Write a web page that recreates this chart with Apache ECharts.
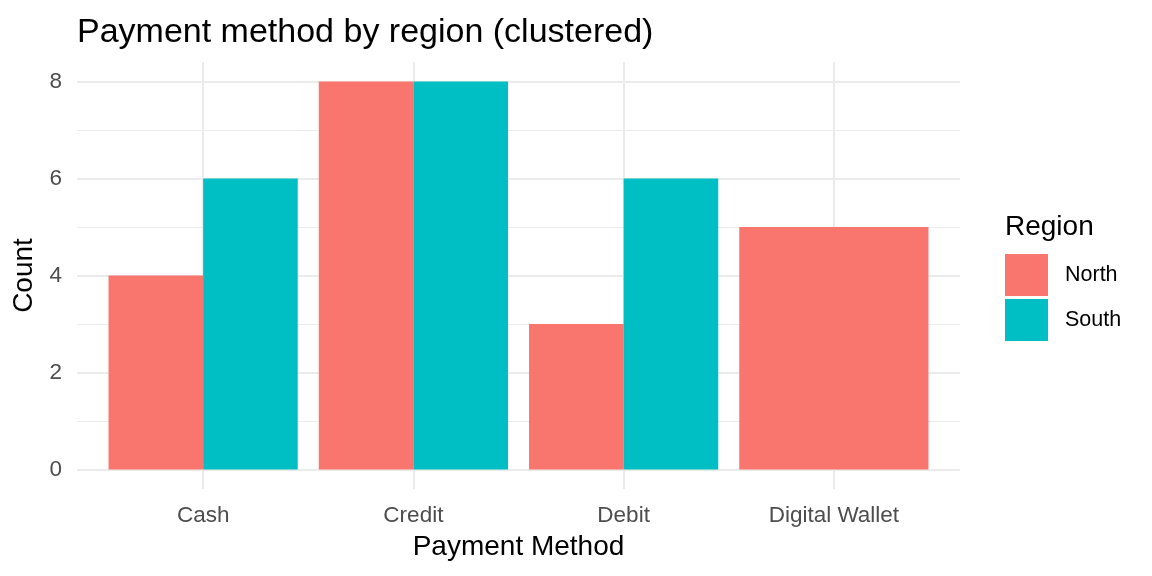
<!DOCTYPE html>
<html>
<head>
<meta charset="utf-8">
<script src="https://cdn.jsdelivr.net/npm/echarts@6/dist/echarts.min.js"></script>
<style>
  html, body { margin: 0; padding: 0; background: #fff; }
  #chart { width: 1152px; height: 576px; }
</style>
</head>
<body>
<div id="chart"></div>
<script>
// data
const methods = ['Cash', 'Credit', 'Debit', 'Digital Wallet'];
const north = [4, 8, 3, 5];
const south = [6, 8, 6, null];
const yTicks = [0, 2, 4, 6, 8];

const FONT = 'Liberation Sans, Arial, sans-serif';
let myChart = echarts.init(document.getElementById('chart'));

// ggplot style dodge: bar takes half the slot when both regions exist, full slot otherwise
function seriesData(vals, other) {
    return vals.map(function (v, i) {
        return v == null ? null : [i + 1, v, other[i] == null ? 0 : 1];
    }).filter(function (d) { return d; });
}

function makeRender(side) {
    return function (params, api) {
        let x = api.value(0), v = api.value(1), dodge = api.value(2);
        let x0 = x - 0.45, x1 = x + 0.45;
        if (dodge) {
            if (side === 0) x1 = x; else x0 = x;
        }
        let p0 = api.coord([x0, 0]);
        let p1 = api.coord([x1, v]);
        return {
            type: 'rect',
            shape: { x: p0[0], y: p1[1], width: p1[0] - p0[0], height: p0[1] - p1[1] },
            style: { fill: api.visual('color') }
        };
    };
}

myChart.setOption({
    animation: false,
    title: [
        {
            text: 'Payment method by region (clustered)',
            left: 72, top: 11,
            textStyle: { fontFamily: FONT, fontSize: 34, fontWeight: 'normal', color: '#000' }
        },
        {
            text: 'Region',
            left: 1000, top: 208,
            textStyle: { fontFamily: FONT, fontSize: 28, fontWeight: 'normal', color: '#000' }
        }
    ],
    legend: {
        orient: 'vertical',
        left: 1000, top: 249,
        itemWidth: 43, itemHeight: 42, itemGap: 3,
        icon: 'rect',
        data: ['North', 'South'],
        textStyle: { fontFamily: FONT, fontSize: 21.5, color: '#000', padding: [5, 0, 0, 12] }
    },
    grid: { left: 77, right: 192, top: 62, bottom: 87, containLabel: false },
    xAxis: {
        type: 'value', min: 0.4, max: 4.6,
        name: 'Payment Method', nameLocation: 'middle', nameGap: 44,
        nameTextStyle: { fontFamily: FONT, fontSize: 28, color: '#000' },
        axisLine: { show: false },
        axisTick: { show: false, customValues: [1, 2, 3, 4] },
        axisLabel: {
            customValues: [1, 2, 3, 4],
            margin: 15,
            fontFamily: FONT, fontSize: 22.5, color: '#4d4d4d',
            formatter: function (v) { return methods[Math.round(v) - 1]; }
        },
        splitLine: { show: true, lineStyle: { color: '#ebebeb', width: 2 } }
    },
    yAxis: [
        {
            type: 'value', min: -0.4, max: 8.4,
            name: 'Count', nameLocation: 'middle', nameGap: 37,
            nameTextStyle: { fontFamily: FONT, fontSize: 28, color: '#000' },
            axisLine: { show: false },
            axisTick: { show: false, customValues: yTicks },
            axisLabel: { customValues: yTicks, margin: 15, fontFamily: FONT, fontSize: 22.5, color: '#4d4d4d' },
            splitLine: { show: true, lineStyle: { color: '#ebebeb', width: 2 } }
        },
        {
            // minor gridlines
            type: 'value', min: -0.4, max: 8.4, position: 'left',
            axisLine: { show: false },
            axisTick: { show: false, customValues: [1, 3, 5, 7] },
            axisLabel: { show: false, customValues: [1, 3, 5, 7] },
            splitLine: { show: true, lineStyle: { color: '#ebebeb', width: 1 } }
        }
    ],
    series: [
        {
            name: 'North', type: 'custom', z: 5,
            itemStyle: { color: '#F8766D' },
            renderItem: makeRender(0),
            encode: { x: 0, y: 1 },
            data: seriesData(north, south)
        },
        {
            name: 'South', type: 'custom', z: 5,
            itemStyle: { color: '#00BFC4' },
            renderItem: makeRender(1),
            encode: { x: 0, y: 1 },
            data: seriesData(south, north)
        }
    ]
});
</script>
</body>
</html>
